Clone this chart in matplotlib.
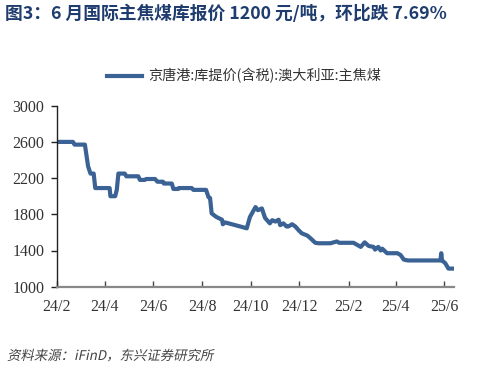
import matplotlib
matplotlib.use("Agg")
import matplotlib.pyplot as plt
import pandas as pd
from matplotlib.textpath import TextPath
from matplotlib.patches import PathPatch
from matplotlib.font_manager import FontProperties
from matplotlib.transforms import Affine2D, IdentityTransform

plt.rcParams['font.family'] = ['Noto Sans CJK SC', 'DejaVu Sans']

title = "图3：6 月国际主焦煤库报价 1200 元/吨，环比跌 7.69%"
series_name = "京唐港:库提价(含税):澳大利亚:主焦煤"
source = "资料来源：iFinD，东兴证券研究所"

# (date, price in 元/吨)
dates = [
    "2024-02-01", "2024-02-21", "2024-02-23", "2024-03-07", "2024-03-11",
    "2024-03-14", "2024-03-18", "2024-03-20", "2024-04-07", "2024-04-08",
    "2024-04-14", "2024-04-16", "2024-04-18", "2024-04-26", "2024-04-28",
    "2024-05-13", "2024-05-15", "2024-05-21", "2024-05-23", "2024-06-03",
    "2024-06-06", "2024-06-13", "2024-06-14", "2024-06-24", "2024-06-26",
    "2024-07-02", "2024-07-03", "2024-07-19", "2024-07-21", "2024-08-06",
    "2024-08-09", "2024-08-11", "2024-08-13", "2024-08-19", "2024-08-26",
    "2024-08-27", "2024-08-30", "2024-09-18", "2024-09-26", "2024-09-30",
    "2024-10-07", "2024-10-10", "2024-10-15", "2024-10-19", "2024-10-25",
    "2024-10-28", "2024-11-01", "2024-11-05", "2024-11-07", "2024-11-11",
    "2024-11-15", "2024-11-17", "2024-11-22", "2024-11-26", "2024-11-30",
    "2024-12-04", "2024-12-11", "2024-12-15", "2024-12-21", "2024-12-25",
    "2025-01-09", "2025-01-17", "2025-01-20", "2025-02-07", "2025-02-16",
    "2025-02-21", "2025-02-26", "2025-03-04", "2025-03-06", "2025-03-10",
    "2025-03-13", "2025-03-15", "2025-03-21", "2025-04-03", "2025-04-07",
    "2025-04-11", "2025-04-16", "2025-05-27", "2025-05-28", "2025-05-29",
    "2025-06-02", "2025-06-06", "2025-06-14",
]
prices = [
    2600, 2600, 2570, 2570, 2330,
    2250, 2250, 2090, 2090, 2000,
    2000, 2070, 2250, 2250, 2220,
    2220, 2180, 2180, 2190, 2190,
    2160, 2160, 2140, 2140, 2080,
    2080, 2090, 2090, 2070, 2070,
    1990, 1980, 1810, 1770, 1740,
    1690, 1710, 1665, 1645, 1770,
    1880, 1845, 1865, 1760, 1700,
    1735, 1720, 1740, 1680, 1700,
    1665, 1665, 1690, 1665, 1625,
    1590, 1565, 1535, 1485, 1480,
    1480, 1500, 1485, 1485, 1440,
    1490, 1450, 1440, 1410, 1440,
    1400, 1420, 1370, 1370, 1350,
    1300, 1290, 1290, 1370, 1290,
    1260, 1200, 1200,
]

x = pd.to_datetime(dates)
line_color = "#3b6294"

fig = plt.figure(figsize=(4.8, 3.69), dpi=100)
ax = fig.add_axes([57 / 480, 1 - 286.7 / 369, (454 - 57) / 480, (286.7 - 105.7) / 369])

ax.plot(x, prices, color=line_color, lw=3, solid_joinstyle="round", label=series_name)

ax.set_ylim(1000, 3000)
ax.set_yticks([1000, 1400, 1800, 2200, 2600, 3000])
ax.set_xlim(pd.Timestamp("2024-02-01"), pd.Timestamp("2025-06-13"))
xt = pd.date_range("2024-02-01", "2025-06-01", freq="2MS")
ax.set_xticks(xt)
ax.set_xticklabels([f"{d.year % 100}/{d.month}" for d in xt])

for s in ("top", "right"):
    ax.spines[s].set_visible(False)
ax.spines["left"].set_color("#222222")
ax.spines["left"].set_linewidth(1)
ax.spines["bottom"].set_color("#888888")
ax.spines["bottom"].set_linewidth(1.6)

serif = FontProperties(family="Liberation Serif", size=11.5)
ax.tick_params(axis="y", direction="out", length=4, width=1, color="#222222", pad=5)
ax.tick_params(axis="x", direction="in", length=4, width=1, color="#444444", pad=9)
for lab in ax.get_xticklabels() + ax.get_yticklabels():
    lab.set_fontproperties(serif)
    lab.set_color("#333333")

fig.text(5 / 480, 1 - 14 / 369, title, fontsize=12.8, fontweight="bold",
         color="#1f3c6e", va="center", ha="left")

fig.legend(loc="center", bbox_to_anchor=(244 / 480, 1 - 76 / 369), frameon=False,
           fontsize=10.2, handlelength=2.5, handletextpad=0.4, labelcolor="#333333")

# slanted source note (CJK fonts have no italic face)
tp = TextPath((0, 0), source, size=13.4, prop=FontProperties(family=["Noto Sans CJK SC"]))
tr = Affine2D().skew_deg(12, 0).translate(7, 369 - 360)
fig.add_artist(PathPatch(tr.transform_path(tp), facecolor="#444444", edgecolor="none",
                         transform=IdentityTransform()))

fig.savefig("out.png", dpi=100)
